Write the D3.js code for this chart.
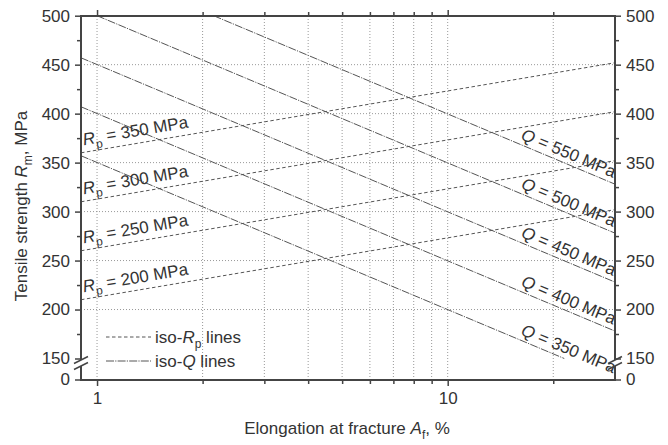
<!DOCTYPE html>
<html>
<head>
<meta charset="utf-8">
<script src="https://cdn.jsdelivr.net/npm/d3@7"></script>
<style>
  body { margin: 0; background: #fff; }
  text { font-family: "Liberation Sans", Arial, sans-serif; fill: #333; }
</style>
</head>
<body>
<div id="chart"></div>
<script>
// tick values
var xMajorTicks = [1, 10];
var xMinorTicks = [2, 3, 4, 5, 6, 7, 8, 9, 20];
var yTicks = [150, 200, 250, 300, 350, 400, 450, 500];
var yMinorTicks = [175, 225, 275, 325, 375, 425, 475];
var yGrid = [200, 250, 300, 350, 400, 450];

// iso-Rp lines (dashed), end points
var rpValues = [200, 250, 300, 350];
var rpStartA = [0.9, 0.9, 0.9, 0.9];
var rpStartRm = [210, 260, 310, 360];
var rpEndA = [30, 30, 30, 30];
var rpEndRm = [302, 352, 402, 452];

// iso-Q lines, end points
var qValues = [350, 400, 450, 500, 550];
var qStartA = [0.9, 0.9, 0.9, 1.0, 2.15];
var qStartRm = [357, 407, 457, 500, 500];
var qEndA = [21.5, 30, 30, 30, 30];
var qEndRm = [150, 178, 228, 278, 328];

var w = 668, h = 445;
var plotL = 81, plotR = 615, plotT = 16, plotB = 380;

var svg = d3.select("#chart")
  .append("svg")
  .attr("width", w)
  .attr("height", h);

var x = d3.scaleLog().domain([0.9, 30]).range([plotL, plotR]);
var y = d3.scaleLinear().domain([150, 500]).range([358.5, 15.7]);
//the part below the axis break only holds the 0
var yLow = d3.scaleLinear().domain([0, 150]).range([379.5, 358.5]);

var gridColor = "#999";
var axisColor = "#444";
var rpDash = "3.5,2.5";
var qDash = "8,1.2,1.2,1.2";

//Grid lines
svg.append("g").selectAll("line")
  .data(yGrid)
  .enter()
  .append("line")
  .attr("x1", plotL).attr("x2", plotR)
  .attr("y1", function(d) { return y(d); })
  .attr("y2", function(d) { return y(d); })
  .attr("stroke", gridColor)
  .attr("stroke-dasharray", "1,2");

svg.append("g").selectAll("line")
  .data(xMajorTicks.concat(xMinorTicks))
  .enter()
  .append("line")
  .attr("x1", function(d) { return x(d); })
  .attr("x2", function(d) { return x(d); })
  .attr("y1", plotT).attr("y2", plotB)
  .attr("stroke", gridColor)
  .attr("stroke-dasharray", "1,2");

//px helpers for a line given by two end points
function seg(a0, r0, a1, r1) {
  return { x0: x(a0), y0: y(r0), x1: x(a1), y1: y(r1) };
}
function yAt(s, px) {
  return s.y0 + (s.y1 - s.y0) * (px - s.x0) / (s.x1 - s.x0);
}
function angleOf(s) {
  return Math.atan2(s.y1 - s.y0, s.x1 - s.x0) * 180 / Math.PI;
}

var rpSegs = rpValues.map(function(d, i) {
  return seg(rpStartA[i], rpStartRm[i], rpEndA[i], rpEndRm[i]);
});
var qSegs = qValues.map(function(d, i) {
  return seg(qStartA[i], qStartRm[i], qEndA[i], qEndRm[i]);
});

var lineColor = "#555";

//iso-Rp lines
svg.append("g").selectAll("line")
  .data(rpSegs)
  .enter()
  .append("line")
  .attr("x1", function(d) { return d.x0; })
  .attr("y1", function(d) { return d.y0; })
  .attr("x2", function(d) { return d.x1; })
  .attr("y2", function(d) { return d.y1; })
  .attr("stroke", lineColor)
  .attr("stroke-width", 1)
  .attr("stroke-dasharray", rpDash);

//iso-Q lines
svg.append("g").selectAll("line")
  .data(qSegs)
  .enter()
  .append("line")
  .attr("x1", function(d) { return d.x0; })
  .attr("y1", function(d) { return d.y0; })
  .attr("x2", function(d) { return d.x1; })
  .attr("y2", function(d) { return d.y1; })
  .attr("stroke", lineColor)
  .attr("stroke-width", 1)
  .attr("stroke-dasharray", qDash);

//Rp labels, above the left end of each line
rpSegs.forEach(function(s, i) {
  var px = 85;
  var t = svg.append("text")
    .attr("transform", "translate(" + px + "," + yAt(s, px) + ") rotate(" + angleOf(s) + ")")
    .attr("y", -7)
    .attr("font-size", 17);
  t.append("tspan").attr("font-style", "italic").text("R");
  t.append("tspan").attr("font-size", 12).attr("dy", 5).text("p");
  t.append("tspan").attr("dy", -5).text(" = " + rpValues[i] + " MPa");
});

//Q labels, right aligned near the right axis
qSegs.forEach(function(s, i) {
  var px = 611;
  var t = svg.append("text")
    .attr("transform", "translate(" + px + "," + yAt(s, px) + ") rotate(" + angleOf(s) + ")")
    .attr("y", -5)
    .attr("text-anchor", "end")
    .attr("font-size", 17);
  t.append("tspan").attr("font-style", "italic").text("Q");
  t.append("tspan").text(" = " + qValues[i] + " MPa");
});

//Axes
function styleAxis(g) {
  g.select(".domain").remove();
  g.selectAll(".tick line").attr("stroke", axisColor).attr("stroke-width", 1.5);
  g.selectAll(".tick text").attr("font-size", 17).attr("fill", "#333")
    .attr("font-family", "Liberation Sans, Arial, sans-serif");
}

svg.append("g")
  .attr("transform", "translate(" + plotL + ",0)")
  .call(d3.axisLeft(y).tickValues(yTicks).tickSize(6).tickPadding(5))
  .call(styleAxis);
svg.append("g")
  .attr("transform", "translate(" + plotL + ",0)")
  .call(d3.axisLeft(y).tickValues(yMinorTicks).tickSize(4).tickFormat(""))
  .call(styleAxis);
svg.append("g")
  .attr("transform", "translate(" + plotL + ",0)")
  .call(d3.axisLeft(yLow).tickValues([0]).tickSize(6).tickPadding(5))
  .call(styleAxis);

svg.append("g")
  .attr("transform", "translate(" + plotR + ",0)")
  .call(d3.axisRight(y).tickValues(yTicks).tickSize(6).tickPadding(5))
  .call(styleAxis);
svg.append("g")
  .attr("transform", "translate(" + plotR + ",0)")
  .call(d3.axisRight(y).tickValues(yMinorTicks).tickSize(4).tickFormat(""))
  .call(styleAxis);
svg.append("g")
  .attr("transform", "translate(" + plotR + ",0)")
  .call(d3.axisRight(yLow).tickValues([0]).tickSize(6).tickPadding(5))
  .call(styleAxis);

svg.append("g")
  .attr("transform", "translate(0," + plotB + ")")
  .call(d3.axisBottom(x).tickValues(xMajorTicks).tickSize(6).tickPadding(6).tickFormat(d3.format("d")))
  .call(styleAxis);
svg.append("g")
  .attr("transform", "translate(0," + plotB + ")")
  .call(d3.axisBottom(x).tickValues(xMinorTicks).tickSize(4).tickFormat(""))
  .call(styleAxis);
svg.append("g")
  .attr("transform", "translate(0," + plotT + ")")
  .call(d3.axisTop(x).tickValues(xMajorTicks).tickSize(6).tickFormat(""))
  .call(styleAxis);
svg.append("g")
  .attr("transform", "translate(0," + plotT + ")")
  .call(d3.axisTop(x).tickValues(xMinorTicks).tickSize(4).tickFormat(""))
  .call(styleAxis);

//Frame with the break on both vertical axes
var gapTop = 360, gapBottom = 366;
var frame = "M" + plotL + "," + gapTop + "V" + plotT + "H" + plotR + "V" + gapTop +
  "M" + plotL + "," + gapBottom + "V" + plotB + "H" + plotR + "V" + gapBottom;
svg.append("path")
  .attr("d", frame)
  .attr("fill", "none")
  .attr("stroke", axisColor)
  .attr("stroke-width", 2);

[plotL, plotR].forEach(function(ax) {
  [gapTop, gapBottom].forEach(function(gy) {
    svg.append("line")
      .attr("x1", ax - 7).attr("y1", gy + 3.5)
      .attr("x2", ax + 7).attr("y2", gy - 3.5)
      .attr("stroke", axisColor)
      .attr("stroke-width", 1.5);
  });
});

//Legend
var legend = svg.append("g");
var legendRows = [
  { y: 337, dash: rpDash, name: "R", sub: "p" },
  { y: 361, dash: qDash, name: "Q", sub: "" }
];
legendRows.forEach(function(r) {
  legend.append("line")
    .attr("x1", 106).attr("x2", 151)
    .attr("y1", r.y).attr("y2", r.y)
    .attr("stroke", lineColor)
    .attr("stroke-dasharray", r.dash);
  var t = legend.append("text")
    .attr("x", 155).attr("y", r.y + 6)
    .attr("font-size", 17);
  t.append("tspan").text("iso-");
  t.append("tspan").attr("font-style", "italic").text(r.name);
  if (r.sub) {
    t.append("tspan").attr("font-size", 12).attr("dy", 5).text(r.sub);
    t.append("tspan").attr("dy", -5).text(" lines");
  } else {
    t.append("tspan").text(" lines");
  }
});

//Axis titles
var xt = svg.append("text")
  .attr("x", 347).attr("y", 434)
  .attr("text-anchor", "middle")
  .attr("font-size", 17);
xt.append("tspan").text("Elongation at fracture ");
xt.append("tspan").attr("font-style", "italic").text("A");
xt.append("tspan").attr("font-size", 12).attr("dy", 5).text("f");
xt.append("tspan").attr("dy", -5).text(", %");

var yt = svg.append("text")
  .attr("transform", "translate(27,206) rotate(-90)")
  .attr("text-anchor", "middle")
  .attr("font-size", 17);
yt.append("tspan").text("Tensile strength ");
yt.append("tspan").attr("font-style", "italic").text("R");
yt.append("tspan").attr("font-size", 12).attr("dy", 5).text("m");
yt.append("tspan").attr("dy", -5).text(", MPa");
</script>
</body>
</html>
